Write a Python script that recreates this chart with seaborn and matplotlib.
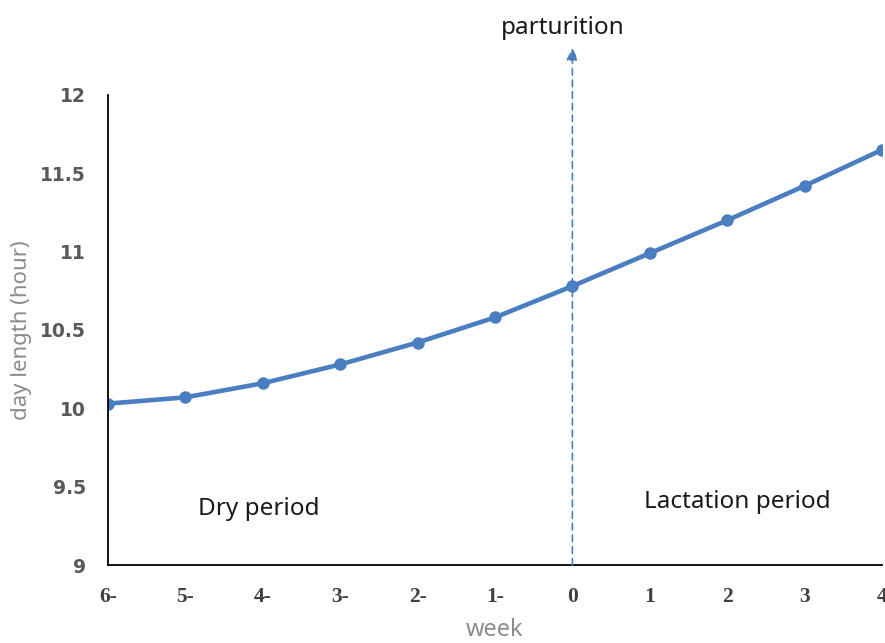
import matplotlib
matplotlib.use('Agg')
import matplotlib.pyplot as plt
import seaborn as sns
import pandas as pd

# dados
semanas = [-6, -5, -4, -3, -2, -1, 0, 1, 2, 3, 4]
rotulos_semana = ['6-', '5-', '4-', '3-', '2-', '1-', '0', '1', '2', '3', '4']
comprimento_dia = [10.03, 10.07, 10.16, 10.28, 10.42, 10.58, 10.78, 10.99, 11.20, 11.42, 11.65]
ticks_y = [9, 9.5, 10, 10.5, 11, 11.5, 12]
rotulos_y = ['9', '9.5', '10', '10.5', '11', '11.5', '12']

dados = pd.DataFrame({'week': semanas, 'day length': comprimento_dia})

sns.set_style('white')
plt.rcParams['font.family'] = ['Noto Sans', 'DejaVu Sans']

cor = '#4a7ec0'
fig = plt.figure(figsize=(8.85, 6.43), dpi=100)
ax = fig.add_axes([0.122, 0.1213, 0.8746, 0.731])

sns.lineplot(data=dados, x='week', y='day length', ax=ax, color=cor, linewidth=3.3,
             marker='o', markersize=9, markeredgewidth=0)

ax.set_xlim(-6, 4)
ax.set_ylim(9, 12)
ax.set_xticks(semanas)
ax.set_xticklabels(rotulos_semana, fontfamily='Liberation Serif', fontweight='bold',
                   fontsize=15.5, color='#404040')
ax.set_yticks(ticks_y)
ax.set_yticklabels(rotulos_y, fontfamily='DejaVu Sans', fontweight='bold',
                   fontsize=13.5, color='#595959')
ax.tick_params(axis='both', direction='in', length=6, width=1.2, color='black')
ax.tick_params(axis='x', pad=16)
ax.tick_params(axis='y', pad=16)

for lado in ['top', 'right']:
    ax.spines[lado].set_visible(False)
for lado in ['left', 'bottom']:
    ax.spines[lado].set_color('black')
    ax.spines[lado].set_linewidth(1.3)

ax.set_xlabel('week', fontsize=17, color='#8c8c8c', labelpad=8)
ax.set_ylabel('day length (hour)', fontsize=16, color='#8c8c8c', labelpad=6)

# seta do parto
ax.annotate('', xy=(0, 12.3), xytext=(0, 9), annotation_clip=False,
            arrowprops=dict(arrowstyle='-|>', color=cor, lw=1.2, linestyle=(0, (4, 3)),
                            mutation_scale=18, shrinkA=0, shrinkB=0))
ax.text(-0.13, 12.43, 'parturition', ha='center', va='center', fontsize=17.5,
        color='#1a1a1a', clip_on=False)
ax.text(-4.05, 9.36, 'Dry period', ha='center', va='center', fontsize=17.5, color='#1a1a1a')
ax.text(2.13, 9.4, 'Lactation period', ha='center', va='center', fontsize=17.5, color='#1a1a1a')

fig.savefig('out.png', dpi=100)
